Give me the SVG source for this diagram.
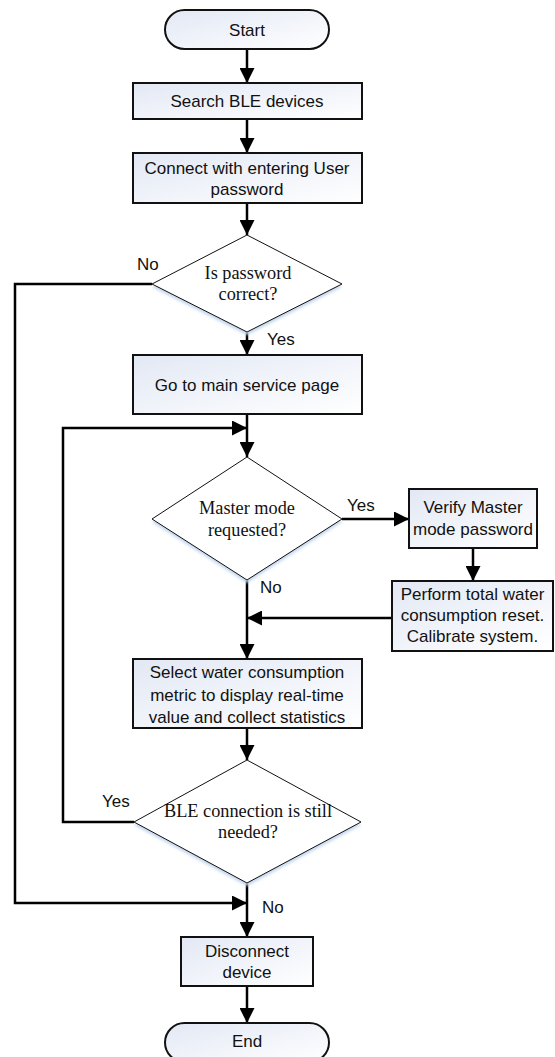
<svg xmlns="http://www.w3.org/2000/svg" width="555" height="1057" viewBox="0 0 555 1057">
<style>
.box{stroke:#111;stroke-width:2;fill:url(#g)}
.dia{stroke:#111;stroke-width:1;fill:#fff}
.sh{fill:#c3d6ee;filter:url(#blur)}
.t{font-family:"Liberation Sans",Arial,sans-serif;font-size:17px;fill:#111;text-anchor:middle}
.s{font-family:"Liberation Serif","Times New Roman",serif;font-size:18.3px;fill:#111;text-anchor:middle}
.l{font-family:"Liberation Sans",Arial,sans-serif;font-size:17px;fill:#111}
.c{stroke:#000;stroke-width:2.5;fill:none}
</style>
<defs>
<linearGradient id="g" x1="0" y1="0" x2="1" y2="1">
<stop offset="0" stop-color="#e2e8f4"/>
<stop offset="1" stop-color="#ffffff"/>
</linearGradient>
<filter id="blur" x="-10%" y="-10%" width="120%" height="130%">
<feGaussianBlur stdDeviation="1.8"/>
</filter>
<marker id="a" markerUnits="userSpaceOnUse" markerWidth="15" markerHeight="15" refX="15" refY="7.5" orient="auto">
<path d="M0,0 L15,7.5 L0,15 z" fill="#000"/>
</marker>
</defs>
<rect width="555" height="1057" fill="#fff"/>

<g id="connectors">
<path class="c" d="M247,49 V83" marker-end="url(#a)"/>
<path class="c" d="M247,119 V153" marker-end="url(#a)"/>
<path class="c" d="M247,203 V235" marker-end="url(#a)"/>
<path class="c" d="M247,332 V355" marker-end="url(#a)"/>
<path class="c" d="M247,414 V457" marker-end="url(#a)"/>
<path class="c" d="M134,822 H63 V428 H247" marker-end="url(#a)"/>
<path class="c" d="M342,519 H409" marker-end="url(#a)"/>
<path class="c" d="M473,548 V581" marker-end="url(#a)"/>
<path class="c" d="M392,618 H247" marker-end="url(#a)"/>
<path class="c" d="M247,580 V659" marker-end="url(#a)"/>
<path class="c" d="M247,728 V760" marker-end="url(#a)"/>
<path class="c" d="M152,284 H15 V903 H247" marker-end="url(#a)"/>
<path class="c" d="M247,883 V937" marker-end="url(#a)"/>
<path class="c" d="M247,986 V1023" marker-end="url(#a)"/>
<text class="l" x="137" y="270">No</text>
<text class="l" x="267" y="345">Yes</text>
<text class="l" x="347" y="511">Yes</text>
<text class="l" x="260" y="593">No</text>
<text class="l" x="102" y="807">Yes</text>
<text class="l" x="262" y="913">No</text>
</g>

<g id="start">
<rect class="box" x="165" y="10" width="164" height="39" rx="19.5"/>
<text class="t" x="247" y="36">Start</text>
</g>
<g id="search">
<rect class="box" x="133" y="83" width="229" height="36"/>
<text class="t" x="247" y="107">Search BLE devices</text>
</g>
<g id="connect">
<rect class="box" x="133" y="153" width="229" height="50"/>
<text class="t" x="247" y="173.5">Connect with entering User</text>
<text class="t" x="247" y="195">password</text>
</g>
<g id="password-check">
<polygon class="sh" points="247,238 342,287 247,335 152,287"/>
<polygon class="dia" points="247,235 342,284 247,332 152,284"/>
<text class="s" x="248" y="278.5">Is password</text>
<text class="s" x="248" y="300">correct?</text>
</g>
<g id="main-page">
<rect class="box" x="133" y="355" width="229" height="59"/>
<text class="t" x="247" y="391">Go to main service page</text>
</g>
<g id="master-check">
<polygon class="sh" points="247,460 342,522 247,583 152,522"/>
<polygon class="dia" points="247,457 342,519 247,580 152,519"/>
<text class="s" x="247" y="514">Master mode</text>
<text class="s" x="247" y="535.5">requested?</text>
</g>
<g id="verify">
<rect class="box" x="409" y="489" width="128" height="59"/>
<text class="t" x="473" y="513">Verify Master</text>
<text class="t" x="473" y="535">mode password</text>
</g>
<g id="perform">
<rect class="box" x="392" y="581" width="161" height="70"/>
<text class="t" x="472.5" y="600">Perform total water</text>
<text class="t" x="472.5" y="621">consumption reset.</text>
<text class="t" x="472.5" y="642">Calibrate system.</text>
</g>
<g id="select">
<rect class="box" x="133" y="659" width="229" height="69"/>
<text class="t" x="247" y="678">Select water consumption</text>
<text class="t" x="247" y="700.5">metric to display real-time</text>
<text class="t" x="247" y="722.5">value and collect statistics</text>
</g>
<g id="ble-check">
<polygon class="sh" points="247,763 361,825 247,886 134,825"/>
<polygon class="dia" points="247,760 361,822 247,883 134,822"/>
<text class="s" x="248" y="816.5">BLE connection is still</text>
<text class="s" x="248" y="837.5">needed?</text>
</g>
<g id="disconnect">
<rect class="box" x="181" y="937" width="132" height="49"/>
<text class="t" x="247" y="956.5">Disconnect</text>
<text class="t" x="247" y="977.5">device</text>
</g>
<g id="end">
<rect class="box" x="165" y="1023" width="164" height="39" rx="19.5"/>
<text class="t" x="247" y="1047">End</text>
</g>
</svg>
